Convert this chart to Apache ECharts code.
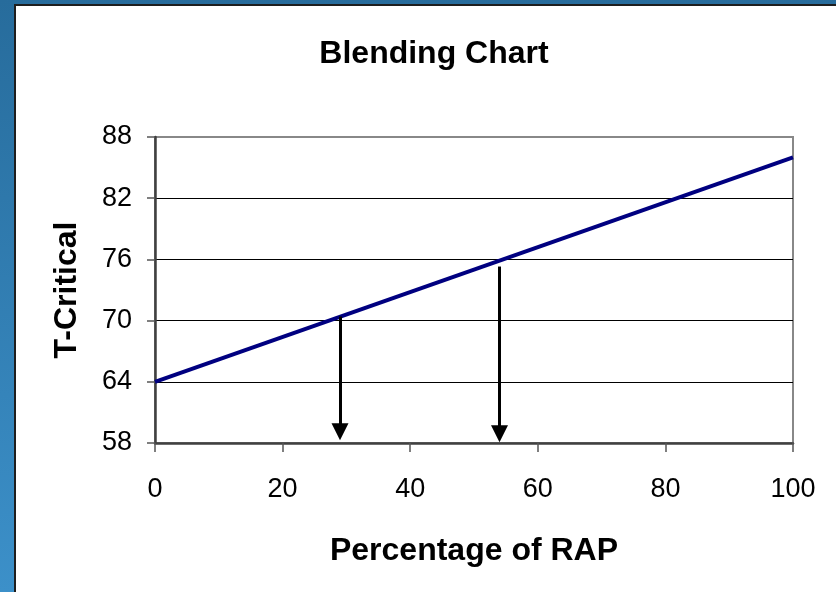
<!DOCTYPE html>
<html><head><meta charset="utf-8">
<script src="https://cdn.jsdelivr.net/npm/echarts@6/dist/echarts.min.js"></script>
<style>html,body{margin:0;padding:0;background:#fff}#c{width:836px;height:592px}</style>
</head><body><div id="c"></div>
<script>
const titleText = 'Blending Chart';
const xName = 'Percentage of RAP';
const yName = 'T-Critical';
const xTicks = [0, 20, 40, 60, 80, 100];
const yTicks = [58, 64, 70, 76, 82, 88];
const blendX = [0, 100];
const blendY = [64, 86];
const arrowX = [29, 54];
const arrowTop = [70.4, 75.3];
const arrowBottom = [59.1, 58.9];

const font = 'Liberation Sans, Arial, sans-serif';
const chart = echarts.init(document.getElementById('c'), null, {renderer: 'canvas'});
const splitColors = yTicks.map((v, i) => i === yTicks.length - 1 ? 'rgba(0,0,0,0)' : '#000');

chart.setOption({
  animation: false,
  graphic: [
    {type: 'rect', z: -100, silent: true, shape: {x: 0, y: 0, width: 836, height: 592},
     style: {fill: {type: 'linear', x: 0, y: 0, x2: 0, y2: 1,
       colorStops: [{offset: 0, color: '#276c9c'}, {offset: 1, color: '#3c90c9'}]}}},
    {type: 'rect', z: -99, silent: true, shape: {x: 15, y: 5, width: 840, height: 600},
     style: {fill: '#fff', stroke: '#1e1e1e', lineWidth: 2}}
  ],
  title: {
    text: titleText, left: 429, top: 33, textAlign: 'center',
    textStyle: {fontFamily: font, fontWeight: 'bold', fontSize: 32, color: '#000'}
  },
  grid: {left: 155, top: 137, right: 43, bottom: 149, show: true, borderColor: '#888', borderWidth: 2, backgroundColor: 'transparent', outerBoundsMode: 'none'},
  xAxis: {
    type: 'value', min: xTicks[0], max: xTicks[xTicks.length - 1], interval: xTicks[1] - xTicks[0],
    name: xName, nameLocation: 'middle', nameGap: 92,
    nameTextStyle: {fontFamily: font, fontWeight: 'bold', fontSize: 32, color: '#000'},
    axisLine: {show: true, lineStyle: {color: '#404040', width: 2.5}},
    axisTick: {show: true, inside: false, length: 9, lineStyle: {color: '#555', width: 1.5}},
    axisLabel: {margin: 33, fontFamily: font, fontSize: 27, color: '#000'},
    splitLine: {show: false}
  },
  yAxis: {
    type: 'value', min: yTicks[0], max: yTicks[yTicks.length - 1], interval: yTicks[1] - yTicks[0],
    name: yName, nameLocation: 'middle', nameGap: 72, nameRotate: 90,
    nameTextStyle: {fontFamily: font, fontWeight: 'bold', fontSize: 32, color: '#000'},
    axisLine: {show: true, lineStyle: {color: '#404040', width: 2.5}},
    axisTick: {show: true, inside: false, length: 8, lineStyle: {color: '#555', width: 1.5}},
    axisLabel: {margin: 23, fontFamily: font, fontSize: 27, color: '#000'},
    splitLine: {show: true, lineStyle: {color: splitColors, width: 1}}
  },
  series: [{
    type: 'line',
    data: blendX.map((x, i) => [x, blendY[i]]),
    showSymbol: false, symbol: 'none',
    lineStyle: {color: '#000080', width: 4},
    silent: true,
    markLine: {
      silent: true, animation: false,
      symbol: ['none', 'triangle'], symbolSize: 17,
      label: {show: false},
      lineStyle: {color: '#000', width: 3, type: 'solid'},
      emphasis: {disabled: true},
      data: arrowX.map((x, i) => [{coord: [x, arrowTop[i]]}, {coord: [x, arrowBottom[i]]}])
    }
  }]
});
</script></body></html>
